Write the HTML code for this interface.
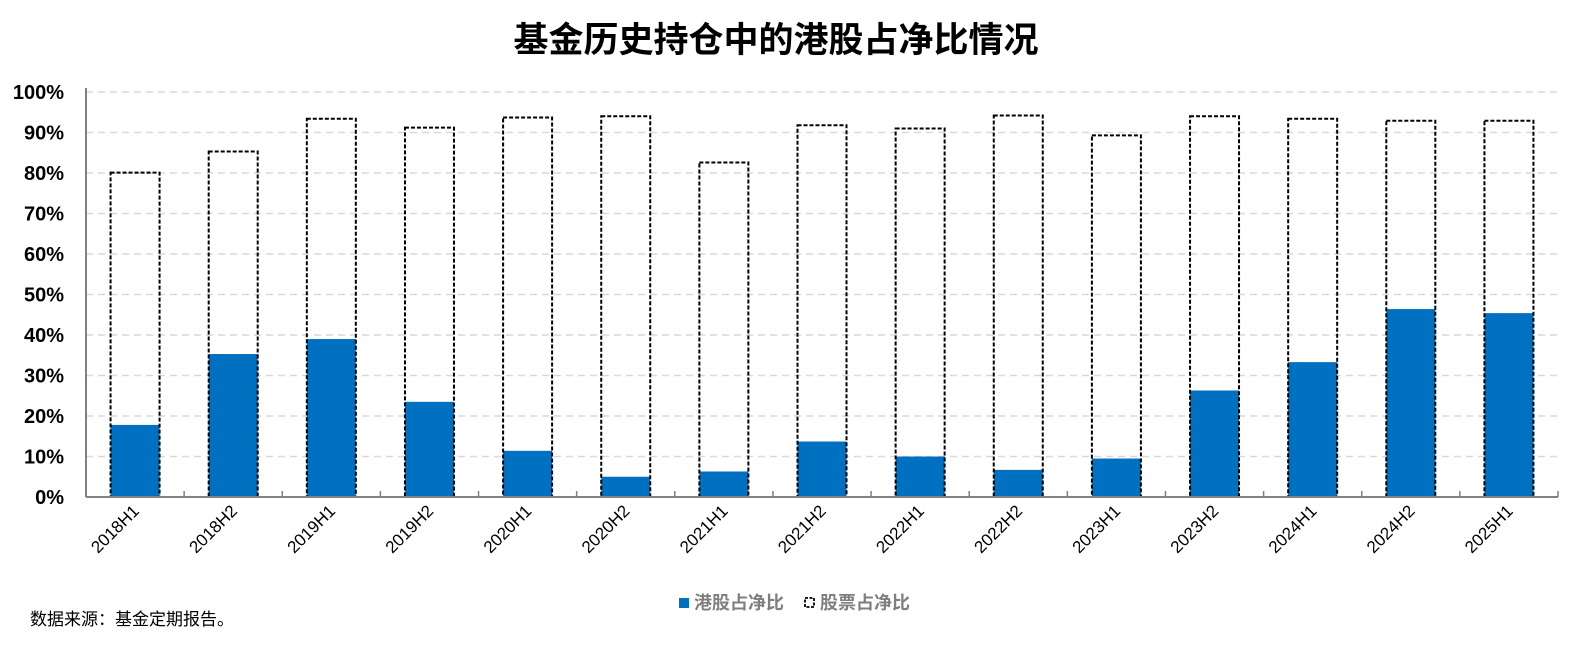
<!DOCTYPE html>
<html><head><meta charset="utf-8"><style>
html,body{margin:0;padding:0;background:#fff;width:1592px;height:645px;overflow:hidden}
svg{display:block}
</style></head><body>
<svg id="chart" width="1592" height="645" xmlns="http://www.w3.org/2000/svg">
<text x="776" y="52" text-anchor="middle" font-family="'Liberation Sans','Noto Sans CJK SC',sans-serif" font-weight="bold" font-size="35" fill="#000">基金历史持仓中的港股占净比情况</text>
<g id="grid"></g>
<g id="bars"></g>
<g id="axes"></g>
<g font-family="'Liberation Sans','Noto Sans CJK SC',sans-serif" font-weight="bold" font-size="18" fill="#7f7f7f">
<rect x="679" y="598" width="10" height="10" fill="#0070c0"/>
<text x="694" y="609">港股占净比</text>
<rect x="805" y="598" width="9" height="9" fill="none" stroke="#000" stroke-width="1.8" stroke-dasharray="3,1.5"/>
<text x="820" y="609">股票占净比</text>
</g>
<text x="30" y="625" font-family="'Liberation Sans','Noto Sans CJK SC',sans-serif" font-size="17" fill="#000">数据来源：基金定期报告。</text>
</svg>
<script>
const categories = ["2018H1","2018H2","2019H1","2019H2","2020H1","2020H2","2021H1","2021H2","2022H1","2022H2","2023H1","2023H2","2024H1","2024H2","2025H1"];
const stockShare = [80.1,85.3,93.4,91.2,93.7,94.0,82.6,91.8,91.0,94.2,89.3,94.0,93.4,92.9,92.9];
const hkShare = [17.8,35.3,39.0,23.5,11.4,5.0,6.3,13.7,10.0,6.7,9.5,26.3,33.3,46.4,45.4];
const yTicks = [0,10,20,30,40,50,60,70,80,90,100];

const NS = "http://www.w3.org/2000/svg";
const X0 = 86, X1 = 1558, Y0 = 497, Y100 = 92;
const step = (X1 - X0) / categories.length;
const barW = 49;
function xCenter(i){ return X0 + step*(i+0.5); }
function yScale(v){ return Y0 - (Y0 - Y100) * v / 100; }
function mk(tag, attrs, parent){ const e = document.createElementNS(NS, tag); for (const k in attrs) e.setAttribute(k, attrs[k]); parent.appendChild(e); return e; }

const grid = document.getElementById('grid');
const bars = document.getElementById('bars');
const axes = document.getElementById('axes');

yTicks.forEach(t => {
  const y = yScale(t);
  if (t > 0) {
    const l = mk('line', {x1:X0, x2:X1, y1:y, y2:y, stroke:'#d9d9d9', 'stroke-width':1.5, 'stroke-dasharray':'7,5'}, grid);
    
    
  }
  const tx = mk('text', {x:64, y:y+7, 'text-anchor':'end', 'font-family':"'Liberation Sans Narrow','Liberation Sans',sans-serif", 'font-weight':'bold', 'font-size':20, fill:'#000'}, axes);
  tx.textContent = t + '%';
  
  
});

categories.forEach((c, i) => {
  const cx = xCenter(i);
  const hk = mk('rect', {x:cx-barW/2, y:yScale(hkShare[i]), width:barW, height:Y0-yScale(hkShare[i]), fill:'#0070c0'}, bars);
  
  
  const st = mk('rect', {x:cx-barW/2, y:yScale(stockShare[i]), width:barW, height:Y0-yScale(stockShare[i]), fill:'none', stroke:'#000', 'stroke-width':2, 'stroke-dasharray':'4,2'}, bars);
  
  
  const lx = cx + 5, ly = 512;
  const lt = mk('text', {x:lx, y:ly, 'text-anchor':'end', transform:'rotate(-45 '+lx+' '+ly+')', 'font-family':"'Liberation Sans',sans-serif", 'font-size':17, fill:'#000'}, axes);
  lt.textContent = c;
  
  
});

for (let i = 0; i <= categories.length; i++) {
  const x = X0 + step*i;
  const tk = mk('line', {x1:x, x2:x, y1:Y0, y2:Y0-6, stroke:'#808080', 'stroke-width':1.5}, axes);
  
  
}
const xa = mk('line', {x1:X0, x2:X1, y1:Y0, y2:Y0, stroke:'#808080', 'stroke-width':2}, axes);


const ya = mk('line', {x1:X0, x2:X0, y1:Y100-4, y2:Y0, stroke:'#808080', 'stroke-width':2}, axes);


</script>
</body></html>
